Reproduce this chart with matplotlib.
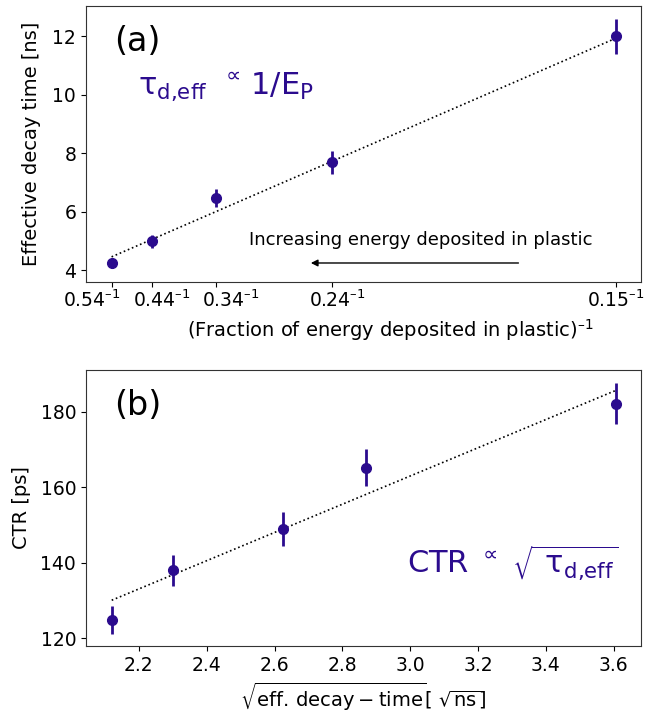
import matplotlib
matplotlib.use("Agg")
import matplotlib.pyplot as plt
import numpy as np

plt.rcParams['font.family'] = ['DejaVu Sans']
plt.rcParams['mathtext.default'] = 'regular'

# Panel (a)
frac_labels = ['0.54', '0.44', '0.34', '0.24', '0.15']
inv_frac_pos = [1.852, 2.239, 2.852, 3.961, 6.667]
tick_label_x = [1.662, 2.328, 2.995, 4.004, 6.662]
decay_time = [4.23, 4.98, 6.46, 7.68, 12.0]
decay_err = [0.15, 0.22, 0.32, 0.39, 0.6]
fit_a_x = [1.852, 6.667]
fit_a_y = [4.45, 11.93]

# Panel (b)
sqrt_decay = [2.12, 2.302, 2.625, 2.869, 3.606]
ctr = [125.0, 138.0, 149.0, 165.1, 182.1]
ctr_err = [3.7, 4.1, 4.5, 4.9, 5.4]
fit_b_x = [2.12, 3.606]
fit_b_y = [130.1, 185.6]

col = '#2b0b8e'
fs_tick = 13.5
fs_lab = 14
sup = r'$^{\text{–}1}$'

fig = plt.figure(figsize=(6.46, 7.13), dpi=100)
ax1 = fig.add_axes([0.133, 0.6045, 0.859, 0.387])
ax2 = fig.add_axes([0.133, 0.094, 0.859, 0.387])

for ax in (ax1, ax2):
    for s in ax.spines.values():
        s.set_color('#333333')
    ax.tick_params(labelsize=fs_tick, colors='#000000')

ax1.errorbar(inv_frac_pos, decay_time, yerr=decay_err, fmt='o', color=col,
             ms=7, elinewidth=2, capsize=0)
ax1.plot(fit_a_x, fit_a_y, ':', color='k', lw=1.2)
ax1.set_xlim(1.607, 6.905)
ax1.set_ylim(3.59, 13.03)
ax1.set_xticks(inv_frac_pos)
ax1.set_xticklabels([''] * len(inv_frac_pos))
ax1.set_xticks(tick_label_x, labels=[l + sup for l in frac_labels], minor=True)
ax1.tick_params(axis='x', which='minor', length=0, labelsize=fs_tick, pad=5.5)
ax1.set_yticks([4, 6, 8, 10, 12])
ax1.set_ylabel('Effective decay time [ns]', fontsize=fs_lab, labelpad=8)
ax1.set_xlabel('(Fraction of energy deposited in plastic)' + sup, fontsize=fs_lab,
               labelpad=4, x=0.548)
ax1.text(0.05, 0.93, '(a)', transform=ax1.transAxes, fontsize=24, va='top')
ax1.text(0.093, 0.68, r'$\tau_{\text{d,eff}}\ \,{}^{\propto}\,$1/E$_P$',
         transform=ax1.transAxes, fontsize=22, color=col)
ax1.text(4.804, 5.03, 'Increasing energy deposited in plastic', fontsize=13,
         ha='center', va='center')
ax1.annotate('', xy=(3.728, 4.24), xytext=(5.763, 4.24),
             arrowprops=dict(arrowstyle='-|>', color='k', lw=1, mutation_scale=10))

ax2.errorbar(sqrt_decay, ctr, yerr=ctr_err, fmt='o', color=col,
             ms=7, elinewidth=2, capsize=0)
ax2.plot(fit_b_x, fit_b_y, ':', color='k', lw=1.2)
ax2.set_xlim(2.044, 3.68)
ax2.set_ylim(118, 191)
ax2.set_yticks([120, 140, 160, 180])
ax2.set_ylabel('CTR [ps]', fontsize=fs_lab, labelpad=7)
ax2.set_xlabel(r'$\sqrt{eff.\,decay-time}$[ $\sqrt{ns}$]', fontsize=fs_lab)
ax2.text(0.05, 0.93, '(b)', transform=ax2.transAxes, fontsize=24, va='top')
ax2.text(2.99, 137.3, r'CTR ${}^{\propto}$ $\sqrt{\ \tau_{\text{d,eff}}}$', fontsize=22, color=col)

fig.savefig('out.png', dpi=100)
